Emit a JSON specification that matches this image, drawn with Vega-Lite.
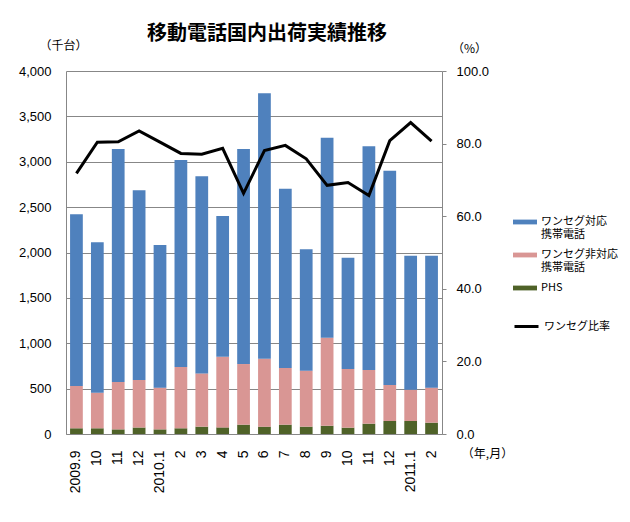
{
  "$schema": "https://vega.github.io/schema/vega-lite/v6.json",
  "width": 376,
  "height": 363,
  "autosize": {"type": "none"},
  "padding": {"left": 66, "top": 71, "right": 188, "bottom": 88},
  "background": "white",
  "config": {
    "font": "Noto Sans CJK JP",
    "view": {"stroke": null},
    "axis": {"labelColor": "#000000", "titleColor": "#000000", "domainColor": "#878787", "tickColor": "#878787", "gridColor": "#878787", "labelFont": "Liberation Sans", "titleFont": "Noto Sans CJK JP", "titleFontWeight": "normal"},
    "legend": {"labelColor": "#000000", "padding": 0, "labelFont": "Noto Sans CJK JP"}
  },
  "title": {
    "text": "移動電話国内出荷実績推移",
    "fontSize": 20,
    "fontWeight": "bold",
    "anchor": "middle",
    "frame": "group",
    "dx": 13,
    "offset": -5,
    "color": "#000000"
  },
  "datasets": {
    "bars": [
      {"ym": "2009.9", "s": "PHS", "v": 63, "o": 1},
      {"ym": "2009.9", "s": "ワンセグ非対応携帯電話", "v": 466, "o": 2},
      {"ym": "2009.9", "s": "ワンセグ対応携帯電話", "v": 1892, "o": 3},
      {"ym": "2009.10", "s": "PHS", "v": 63, "o": 1},
      {"ym": "2009.10", "s": "ワンセグ非対応携帯電話", "v": 392, "o": 2},
      {"ym": "2009.10", "s": "ワンセグ対応携帯電話", "v": 1657, "o": 3},
      {"ym": "2009.11", "s": "PHS", "v": 51, "o": 1},
      {"ym": "2009.11", "s": "ワンセグ非対応携帯電話", "v": 522, "o": 2},
      {"ym": "2009.11", "s": "ワンセグ対応携帯電話", "v": 2567, "o": 3},
      {"ym": "2009.12", "s": "PHS", "v": 73, "o": 1},
      {"ym": "2009.12", "s": "ワンセグ非対応携帯電話", "v": 522, "o": 2},
      {"ym": "2009.12", "s": "ワンセグ対応携帯電話", "v": 2090, "o": 3},
      {"ym": "2010.1", "s": "PHS", "v": 51, "o": 1},
      {"ym": "2010.1", "s": "ワンセグ非対応携帯電話", "v": 460, "o": 2},
      {"ym": "2010.1", "s": "ワンセグ対応携帯電話", "v": 1572, "o": 3},
      {"ym": "2010.2", "s": "PHS", "v": 63, "o": 1},
      {"ym": "2010.2", "s": "ワンセグ非対応携帯電話", "v": 675, "o": 2},
      {"ym": "2010.2", "s": "ワンセグ対応携帯電話", "v": 2281, "o": 3},
      {"ym": "2010.3", "s": "PHS", "v": 81, "o": 1},
      {"ym": "2010.3", "s": "ワンセグ非対応携帯電話", "v": 587, "o": 2},
      {"ym": "2010.3", "s": "ワンセグ対応携帯電話", "v": 2172, "o": 3},
      {"ym": "2010.4", "s": "PHS", "v": 73, "o": 1},
      {"ym": "2010.4", "s": "ワンセグ非対応携帯電話", "v": 779, "o": 2},
      {"ym": "2010.4", "s": "ワンセグ対応携帯電話", "v": 1550, "o": 3},
      {"ym": "2010.5", "s": "PHS", "v": 103, "o": 1},
      {"ym": "2010.5", "s": "ワンセグ非対応携帯電話", "v": 668, "o": 2},
      {"ym": "2010.5", "s": "ワンセグ対応携帯電話", "v": 2369, "o": 3},
      {"ym": "2010.6", "s": "PHS", "v": 81, "o": 1},
      {"ym": "2010.6", "s": "ワンセグ非対応携帯電話", "v": 749, "o": 2},
      {"ym": "2010.6", "s": "ワンセグ対応携帯電話", "v": 2924, "o": 3},
      {"ym": "2010.7", "s": "PHS", "v": 103, "o": 1},
      {"ym": "2010.7", "s": "ワンセグ非対応携帯電話", "v": 624, "o": 2},
      {"ym": "2010.7", "s": "ワンセグ対応携帯電話", "v": 1976, "o": 3},
      {"ym": "2010.8", "s": "PHS", "v": 81, "o": 1},
      {"ym": "2010.8", "s": "ワンセグ非対応携帯電話", "v": 617, "o": 2},
      {"ym": "2010.8", "s": "ワンセグ対応携帯電話", "v": 1337, "o": 3},
      {"ym": "2010.9", "s": "PHS", "v": 92, "o": 1},
      {"ym": "2010.9", "s": "ワンセグ非対応携帯電話", "v": 969, "o": 2},
      {"ym": "2010.9", "s": "ワンセグ対応携帯電話", "v": 2204, "o": 3},
      {"ym": "2010.10", "s": "PHS", "v": 70, "o": 1},
      {"ym": "2010.10", "s": "ワンセグ非対応携帯電話", "v": 646, "o": 2},
      {"ym": "2010.10", "s": "ワンセグ対応携帯電話", "v": 1227, "o": 3},
      {"ym": "2010.11", "s": "PHS", "v": 114, "o": 1},
      {"ym": "2010.11", "s": "ワンセグ非対応携帯電話", "v": 591, "o": 2},
      {"ym": "2010.11", "s": "ワンセグ対応携帯電話", "v": 2465, "o": 3},
      {"ym": "2010.12", "s": "PHS", "v": 143, "o": 1},
      {"ym": "2010.12", "s": "ワンセグ非対応携帯電話", "v": 397, "o": 2},
      {"ym": "2010.12", "s": "ワンセグ対応携帯電話", "v": 2362, "o": 3},
      {"ym": "2011.1", "s": "PHS", "v": 143, "o": 1},
      {"ym": "2011.1", "s": "ワンセグ非対応携帯電話", "v": 345, "o": 2},
      {"ym": "2011.1", "s": "ワンセグ対応携帯電話", "v": 1477, "o": 3},
      {"ym": "2011.2", "s": "PHS", "v": 125, "o": 1},
      {"ym": "2011.2", "s": "ワンセグ非対応携帯電話", "v": 386, "o": 2},
      {"ym": "2011.2", "s": "ワンセグ対応携帯電話", "v": 1454, "o": 3}
    ],
    "ratio": [
      {"ym": "2009.9", "r": 71.8},
      {"ym": "2009.10", "r": 80.4},
      {"ym": "2009.11", "r": 80.5},
      {"ym": "2009.12", "r": 83.5},
      {"ym": "2010.1", "r": 80.4},
      {"ym": "2010.2", "r": 77.3},
      {"ym": "2010.3", "r": 77.1},
      {"ym": "2010.4", "r": 78.7},
      {"ym": "2010.5", "r": 66.3},
      {"ym": "2010.6", "r": 78.1},
      {"ym": "2010.7", "r": 79.5},
      {"ym": "2010.8", "r": 75.8},
      {"ym": "2010.9", "r": 68.5},
      {"ym": "2010.10", "r": 69.3},
      {"ym": "2010.11", "r": 65.7},
      {"ym": "2010.12", "r": 80.8},
      {"ym": "2011.1", "r": 85.8},
      {"ym": "2011.2", "r": 80.7}
    ]
  },
  "layer": [
    {
      "data": {"name": "bars"},
      "mark": {"type": "bar"},
      "encoding": {
        "x": {
          "field": "ym",
          "type": "ordinal",
          "sort": null,
          "scale": {
            "domain": ["2009.9", "2009.10", "2009.11", "2009.12", "2010.1", "2010.2", "2010.3", "2010.4", "2010.5", "2010.6", "2010.7", "2010.8", "2010.9", "2010.10", "2010.11", "2010.12", "2011.1", "2011.2"],
            "paddingInner": 0.39,
            "paddingOuter": 0.195
          },
          "axis": {
            "title": "（年,月）",
            "titleAngle": 0,
            "titleX": 421,
            "titleY": 19,
            "titleAlign": "center",
            "titleBaseline": "middle",
            "titleFontSize": 12,
            "labelAngle": -90,
            "labelAlign": "right",
            "labelBaseline": "middle",
            "labelFontSize": 14,
            "labelPadding": 16,
            "ticks": false,
            "tickSize": 0,
            "labelExpr": "indexof(['2009.9','2010.1','2011.1'], datum.value) >= 0 ? datum.value : split(datum.value, '.')[1]"
          }
        },
        "y": {
          "field": "v",
          "type": "quantitative",
          "stack": "zero",
          "scale": {"domain": [0, 4000], "nice": false},
          "axis": {
            "title": "（千台）",
            "titleAngle": 0,
            "titleX": -3,
            "titleY": -26,
            "titleAlign": "center",
            "titleBaseline": "middle",
            "titleFontSize": 12,
            "values": [0, 500, 1000, 1500, 2000, 2500, 3000, 3500, 4000],
            "format": ",.0f",
            "grid": true,
            "ticks": false,
            "tickSize": 0,
            "labelPadding": 15,
            "labelFontSize": 13
          }
        },
        "color": {
          "field": "s",
          "type": "nominal",
          "scale": {
            "domain": ["ワンセグ対応携帯電話", "ワンセグ非対応携帯電話", "PHS"],
            "range": ["#4F81BD", "#D99694", "#4F6228"]
          },
          "legend": {
            "title": null,
            "orient": "none",
            "legendX": 447,
            "legendY": 139,
            "symbolType": "M-1,-0.2H1V0.2H-1Z",
            "symbolSize": 576,
            "symbolStrokeWidth": 0,
            "labelFontSize": 11,
            "labelOffset": 4,
            "labelBaseline": "middle",
            "rowPadding": 3,
            "labelExpr": "datum.label == 'PHS' ? 'PHS' : datum.label == 'ワンセグ対応携帯電話' ? ['ワンセグ対応', '携帯電話'] : ['ワンセグ非対応', '携帯電話']"
          }
        },
        "order": {"field": "o", "type": "quantitative"}
      }
    },
    {
      "data": {"name": "ratio"},
      "mark": {"type": "line", "strokeWidth": 3},
      "encoding": {
        "x": {"field": "ym", "type": "ordinal", "sort": null},
        "y": {
          "field": "r",
          "type": "quantitative",
          "scale": {"domain": [0, 100], "nice": false},
          "axis": {
            "orient": "right",
            "title": "（%）",
            "titleAngle": 0,
            "titleX": 27,
            "titleY": -23,
            "titleAlign": "center",
            "titleBaseline": "middle",
            "titleFontSize": 12,
            "values": [0, 20, 40, 60, 80, 100],
            "format": ".1f",
            "grid": false,
            "ticks": true,
            "tickSize": 4,
            "labelPadding": 10,
            "labelFontSize": 13
          }
        },
        "stroke": {
          "datum": "ワンセグ比率",
          "type": "nominal",
          "scale": {"range": ["#000000"]},
          "legend": {
            "title": null,
            "orient": "none",
            "legendX": 447,
            "legendY": 242,
            "symbolType": "stroke",
            "symbolSize": 576,
            "symbolStrokeWidth": 3,
            "labelFontSize": 11,
            "labelOffset": 4
          }
        }
      }
    }
  ],
  "resolve": {"scale": {"y": "independent", "color": "independent"}}
}
